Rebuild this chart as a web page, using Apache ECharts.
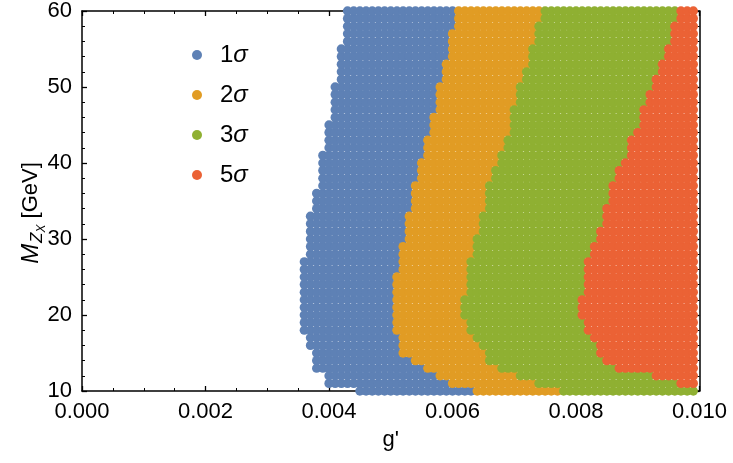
<!DOCTYPE html>
<html><head><meta charset="utf-8">
<script src="https://cdn.jsdelivr.net/npm/echarts@6/dist/echarts.min.js"></script>
<style>html,body{margin:0;padding:0;background:#fff}#c{width:733px;height:463px}</style>
</head><body><div id="c"></div>
<script>
// Rows of the scan: Z_X mass in GeV
const massGeV = [10,11,12,13,14,15,16,17,18,19,20,21,22,23,24,25,26,27,28,29,30,31,32,33,34,35,36,37,38,39,40,41,42,43,44,45,46,47,48,49,50,51,52,53,54,55,56,57,58,59,60];
// g' grid step and last scanned g'
const gStep = 0.0001;
const gLast = 0.0099;
// first g' (per mass row) reaching each significance
const start1sigma = [0.0045,0.0040,0.0040,0.0038,0.0038,0.0038,0.0037,0.0037,0.0036,0.0036,0.0036,0.0036,0.0036,0.0036,0.0036,0.0036,0.0036,0.0036,0.0037,0.0037,0.0037,0.0037,0.0037,0.0037,0.0038,0.0038,0.0038,0.0039,0.0039,0.0039,0.0039,0.0039,0.0040,0.0040,0.0040,0.0040,0.0041,0.0041,0.0041,0.0041,0.0041,0.0042,0.0042,0.0042,0.0042,0.0042,0.0043,0.0043,0.0043,0.0043,0.0043];
const start2sigma = [0.0064,0.0060,0.0058,0.0056,0.0054,0.0052,0.0052,0.0052,0.0051,0.0051,0.0051,0.0051,0.0051,0.0051,0.0051,0.0051,0.0052,0.0052,0.0052,0.0052,0.0053,0.0053,0.0053,0.0053,0.0054,0.0054,0.0054,0.0054,0.0055,0.0055,0.0055,0.0056,0.0056,0.0056,0.0057,0.0057,0.0057,0.0058,0.0058,0.0058,0.0058,0.0059,0.0059,0.0059,0.0060,0.0060,0.0060,0.0060,0.0061,0.0061,0.0061];
const start3sigma = [0.0078,0.0074,0.0071,0.0068,0.0066,0.0066,0.0065,0.0064,0.0063,0.0063,0.0062,0.0062,0.0062,0.0063,0.0063,0.0063,0.0063,0.0063,0.0064,0.0064,0.0064,0.0065,0.0065,0.0065,0.0066,0.0066,0.0066,0.0066,0.0067,0.0067,0.0068,0.0068,0.0069,0.0069,0.0070,0.0070,0.0070,0.0070,0.0071,0.0071,0.0071,0.0072,0.0072,0.0073,0.0073,0.0073,0.0074,0.0074,0.0074,0.0075,0.0075];
const start5sigma = [null,0.0097,0.0093,0.0087,0.0085,0.0084,0.0084,0.0083,0.0082,0.0082,0.0081,0.0081,0.0081,0.0082,0.0082,0.0082,0.0082,0.0082,0.0083,0.0083,0.0084,0.0084,0.0085,0.0085,0.0085,0.0086,0.0086,0.0086,0.0087,0.0087,0.0088,0.0089,0.0089,0.0089,0.0090,0.0091,0.0091,0.0091,0.0092,0.0092,0.0093,0.0093,0.0094,0.0094,0.0095,0.0095,0.0096,0.0096,0.0096,0.0097,0.0097];
const seriesNames = ['1σ','2σ','3σ','5σ'];
const colors = ['#5E81B5','#E19C24','#8FB032','#EB6235'];
const xTicks = [0, 0.002, 0.004, 0.006, 0.008, 0.010];
const yTicks = [10, 20, 30, 40, 50, 60];

function nextStart(arrs, from, i) {
  for (let j = from; j < arrs.length; j++) if (arrs[j][i] != null) return arrs[j][i];
  return null;
}
const starts = [start1sigma, start2sigma, start3sigma, start5sigma];
function bandPoints(s) {
  const pts = [];
  massGeV.forEach((m, i) => {
    const a = starts[s][i];
    if (a == null) return;
    const b = nextStart(starts, s + 1, i);
    const ka = Math.round(a / gStep);
    const kb = b == null ? Math.round(gLast / gStep) + 1 : Math.round(b / gStep);
    for (let k = ka; k < kb; k++) pts.push([+(k * gStep).toFixed(4), m]);
  });
  return pts;
}

const FONT = "'Liberation Sans', Arial, sans-serif";
const chart = echarts.init(document.getElementById('c'), null, {renderer: 'canvas'});
const tickCommon = {
  axisLine: {show: true, onZero: false, lineStyle: {color: '#000', width: 1.5}},
  axisTick: {show: true, inside: true, length: 5, lineStyle: {color: '#000', width: 1.3}},
  splitLine: {show: false}
};
chart.setOption({
  animation: false,
  backgroundColor: '#fff',
  grid: {left: 82, right: 33.5, top: 10, bottom: 72},
  legend: {
    data: seriesNames,
    orient: 'vertical',
    left: 192, top: 41,
    padding: 0,
    itemWidth: 10, itemHeight: 10, itemGap: 12,
    icon: 'circle',
    formatter: n => '{n|' + n[0] + '}{s|σ}',
    textStyle: {
      fontFamily: FONT, fontSize: 24, color: '#000', lineHeight: 28,
      rich: {
        n: {fontFamily: FONT, fontSize: 24, color: '#000', padding: [0, 0, 0, 13]},
        s: {fontFamily: FONT, fontSize: 24, color: '#000', fontStyle: 'italic'}
      }
    }
  },
  xAxis: [
    Object.assign({
      type: 'value', min: xTicks[0], max: xTicks[xTicks.length - 1], interval: 0.002,
      position: 'bottom',
      minorTick: {show: true, splitNumber: 4, length: 3, lineStyle: {color: '#000', width: 1}},
      axisLabel: {fontFamily: FONT, fontSize: 22, color: '#000', margin: 10,
        formatter: v => v.toFixed(3)},
      name: "g'", nameLocation: 'middle', nameGap: 38, nameMoveOverlap: false,
      nameTextStyle: {fontFamily: FONT, fontSize: 22, color: '#000'}
    }, tickCommon),
    Object.assign({
      type: 'value', min: xTicks[0], max: xTicks[xTicks.length - 1], interval: 0.002,
      position: 'top',
      minorTick: {show: true, splitNumber: 4, length: 3, lineStyle: {color: '#000', width: 1}},
      axisLabel: {show: false}
    }, tickCommon)
  ],
  yAxis: [
    Object.assign({
      type: 'value', min: yTicks[0], max: yTicks[yTicks.length - 1], interval: 10,
      position: 'left',
      minorTick: {show: true, splitNumber: 5, length: 3, lineStyle: {color: '#000', width: 1}},
      axisLabel: {fontFamily: FONT, fontSize: 22, color: '#000', margin: 10},
      name: '{i|M}{z|Z}{x|X}{n| [GeV]}', nameLocation: 'middle', nameGap: 34, nameRotate: 90,
      nameMoveOverlap: false,
      nameTextStyle: {
        fontFamily: FONT, fontSize: 22, color: '#000',
        padding: [0, 24, 0, 0],
        rich: {
          i: {fontFamily: FONT, fontSize: 24, fontStyle: 'italic', color: '#000'},
          z: {fontFamily: FONT, fontSize: 17, fontStyle: 'italic', color: '#000', padding: [12, 0, 0, 1]},
          x: {fontFamily: FONT, fontSize: 12, fontStyle: 'italic', color: '#000', padding: [22, 0, 0, 0]},
          n: {fontFamily: FONT, fontSize: 22, color: '#000'}
        }
      }
    }, tickCommon),
    Object.assign({
      type: 'value', min: yTicks[0], max: yTicks[yTicks.length - 1], interval: 10,
      position: 'right',
      minorTick: {show: true, splitNumber: 5, length: 3, lineStyle: {color: '#000', width: 1}},
      axisLabel: {show: false}
    }, tickCommon)
  ],
  series: seriesNames.map((name, s) => ({
    name, type: 'scatter', xAxisIndex: 0, yAxisIndex: 0,
    data: bandPoints(s),
    symbol: 'circle', symbolSize: 9.3,
    itemStyle: {color: colors[s], opacity: 1},
    clip: false, large: false, progressive: 0,
    emphasis: {disabled: true}
  }))
});
</script></body></html>
